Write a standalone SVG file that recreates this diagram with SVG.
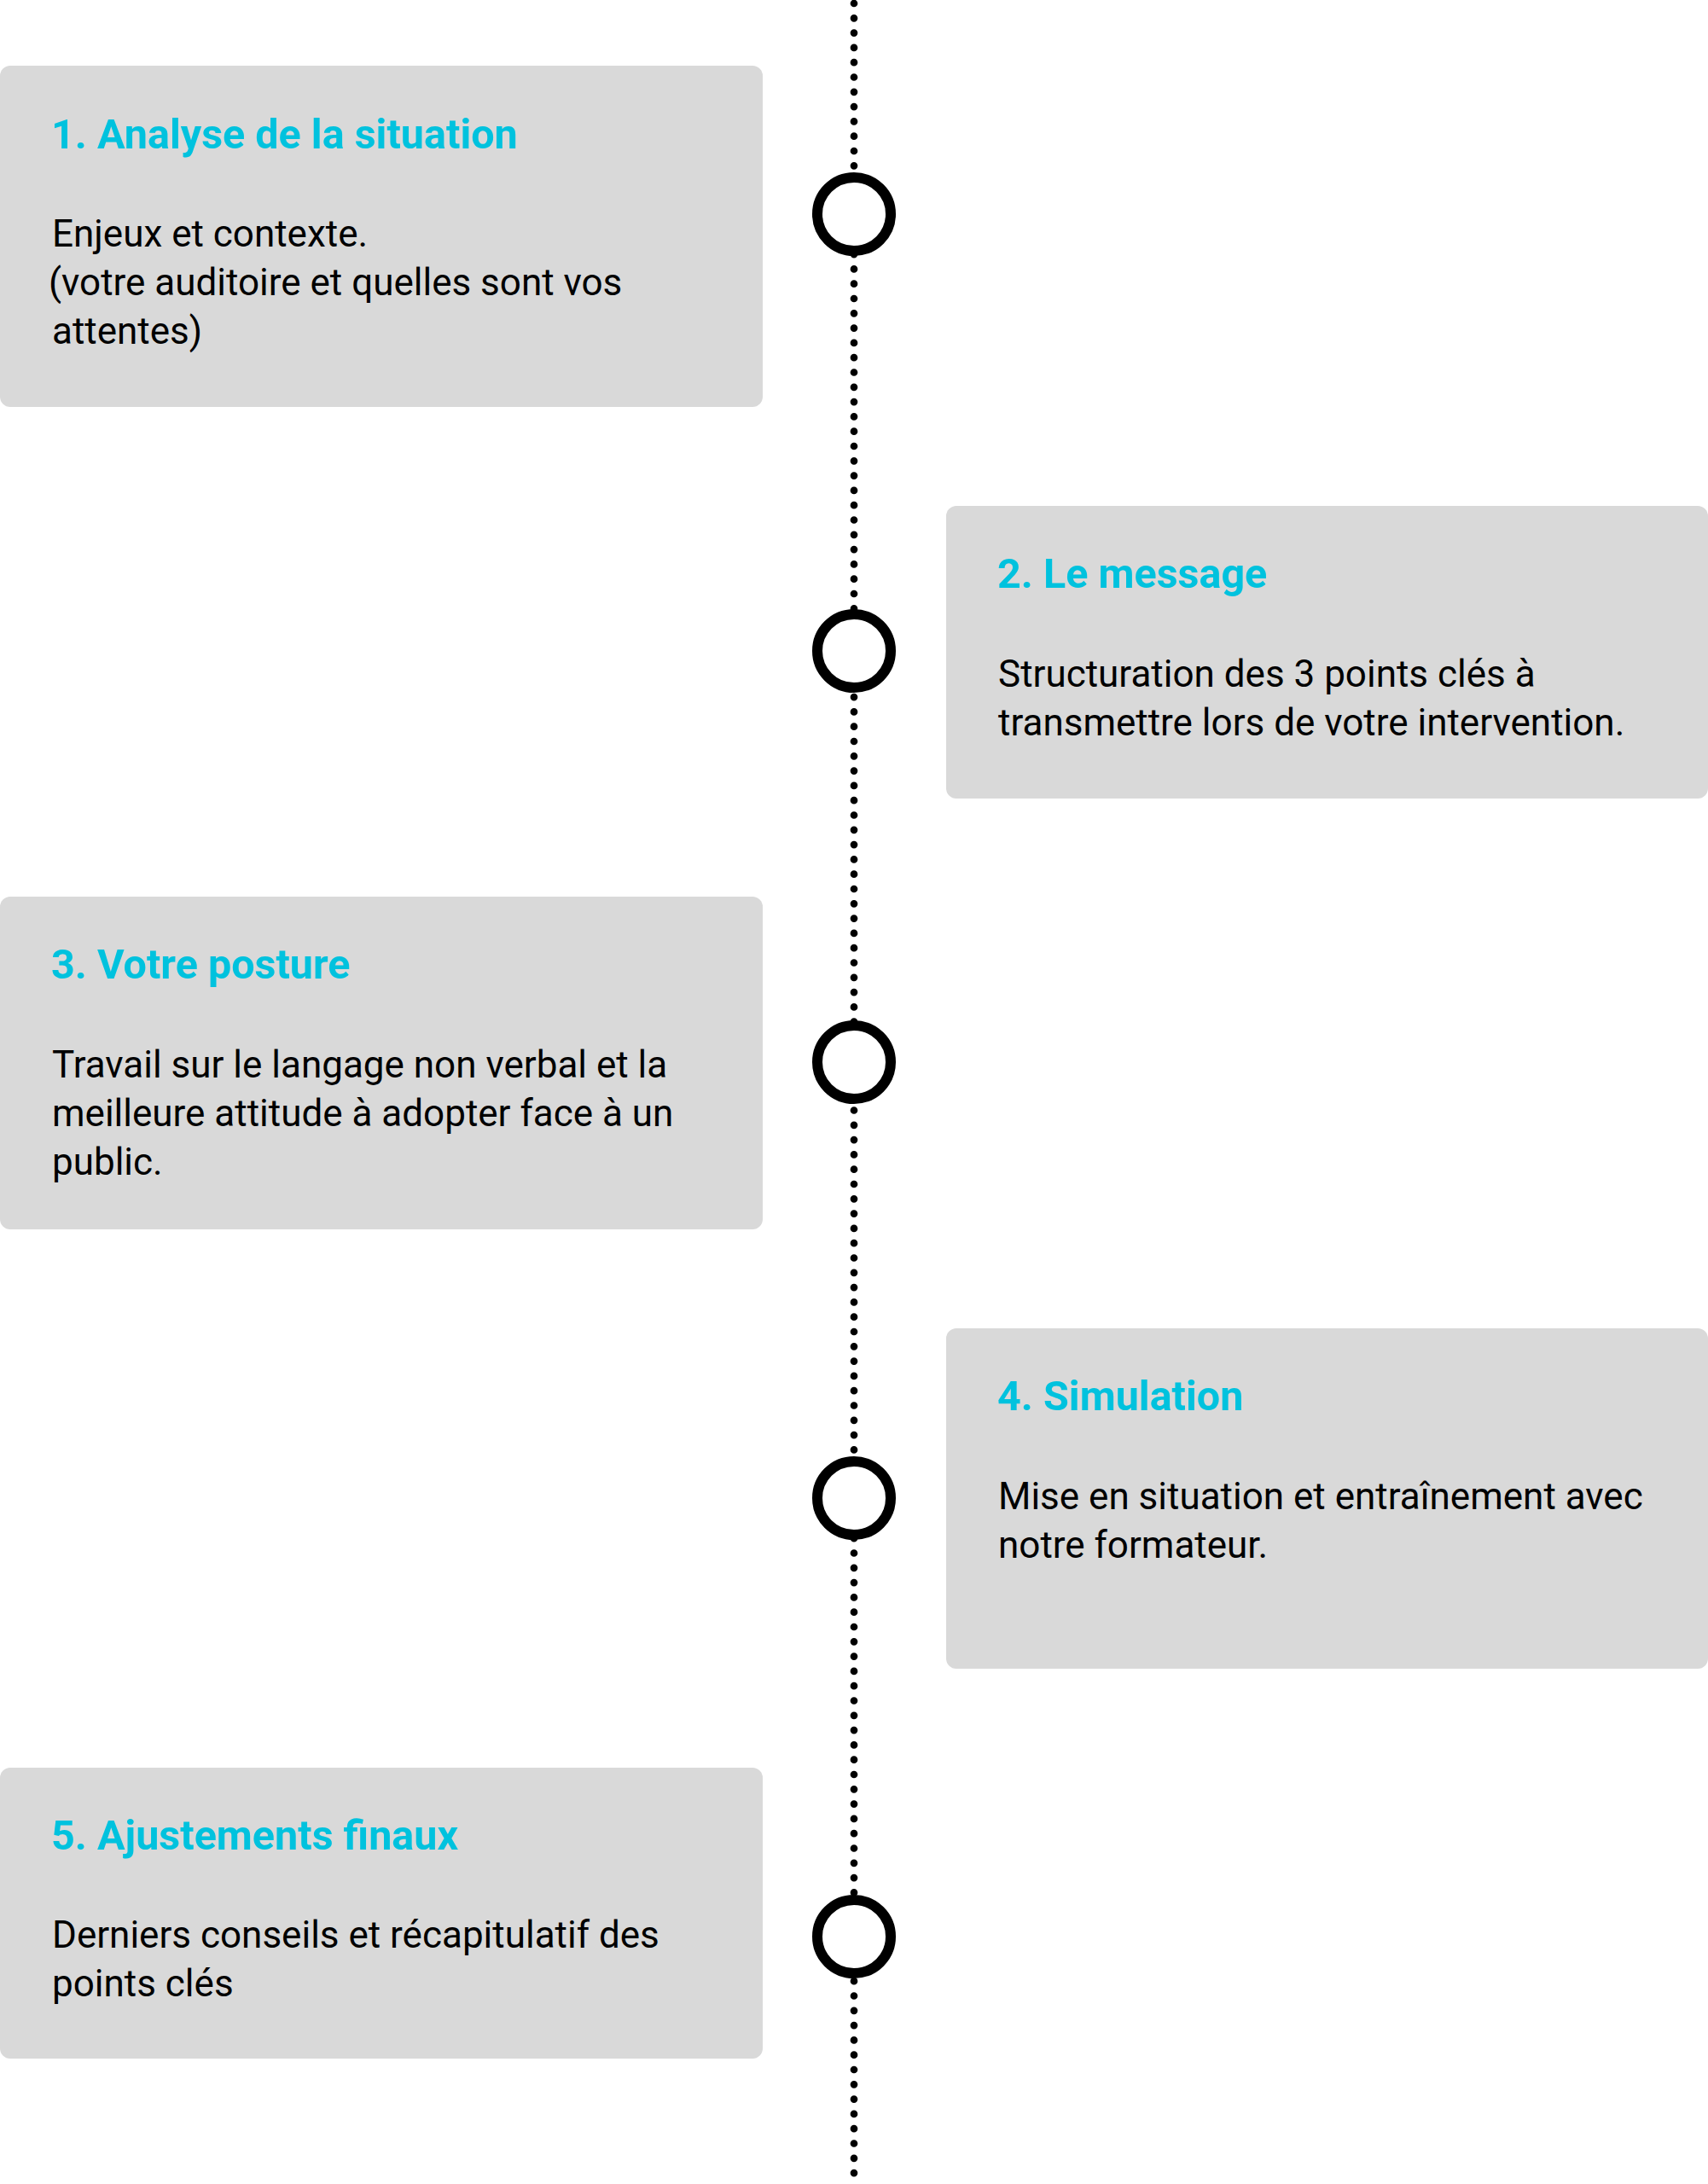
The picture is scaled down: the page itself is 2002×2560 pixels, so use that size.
<svg xmlns="http://www.w3.org/2000/svg" width="2002" height="2560" viewBox="0 0 2002 2560">
<style>
.box{fill:#d9d9d9}
.title{font-family:Roboto,"Liberation Sans",sans-serif;font-weight:700;font-size:48.5px;fill:#00c2de}
.body{font-family:Roboto,"Liberation Sans",sans-serif;font-weight:400;font-size:44px;fill:#000}
.ring{fill:#fff;stroke:#000;stroke-width:12}
.dots{stroke:#000;stroke-width:8.7;stroke-linecap:round;stroke-dasharray:0 17.3;fill:none}
</style>
<rect width="2002" height="2560" fill="#fff"/>
<g id="connectors">
<line class="dots" x1="1001" y1="4" x2="1001" y2="2560"/>
</g>
<g id="node1">
<rect class="box" x="0" y="77" width="894" height="400" rx="12"/>
<text class="title" x="60" y="174">1. Analyse de la situation</text>
<text class="body" x="61" y="289">Enjeux et contexte.</text>
<text class="body" x="57" y="346">(votre auditoire et quelles sont vos</text>
<text class="body" x="61" y="403">attentes)</text>
</g>
<g id="circle1"><circle class="ring" cx="1001" cy="251" r="43"/></g>
<g id="node2">
<rect class="box" x="1109" y="593" width="893" height="343" rx="12"/>
<text class="title" x="1169" y="689">2. Le message</text>
<text class="body" x="1170" y="805">Structuration des 3 points clés à</text>
<text class="body" x="1170" y="862">transmettre lors de votre intervention.</text>
</g>
<g id="circle2"><circle class="ring" cx="1001" cy="763" r="43"/></g>
<g id="node3">
<rect class="box" x="0" y="1051" width="894" height="390" rx="12"/>
<text class="title" x="60" y="1147">3. Votre posture</text>
<text class="body" x="61" y="1263">Travail sur le langage non verbal et la</text>
<text class="body" x="61" y="1320">meilleure attitude à adopter face à un</text>
<text class="body" x="61" y="1377">public.</text>
</g>
<g id="circle3"><circle class="ring" cx="1001" cy="1245" r="43"/></g>
<g id="node4">
<rect class="box" x="1109" y="1557" width="893" height="399" rx="12"/>
<text class="title" x="1169" y="1653">4. Simulation</text>
<text class="body" x="1170" y="1769">Mise en situation et entraînement avec</text>
<text class="body" x="1170" y="1826">notre formateur.</text>
</g>
<g id="circle4"><circle class="ring" cx="1001" cy="1756" r="43"/></g>
<g id="node5">
<rect class="box" x="0" y="2072" width="894" height="341" rx="12"/>
<text class="title" x="60" y="2168">5. Ajustements finaux</text>
<text class="body" x="61" y="2283">Derniers conseils et récapitulatif des</text>
<text class="body" x="61" y="2340">points clés</text>
</g>
<g id="circle5"><circle class="ring" cx="1001" cy="2270" r="43"/></g>
</svg>
